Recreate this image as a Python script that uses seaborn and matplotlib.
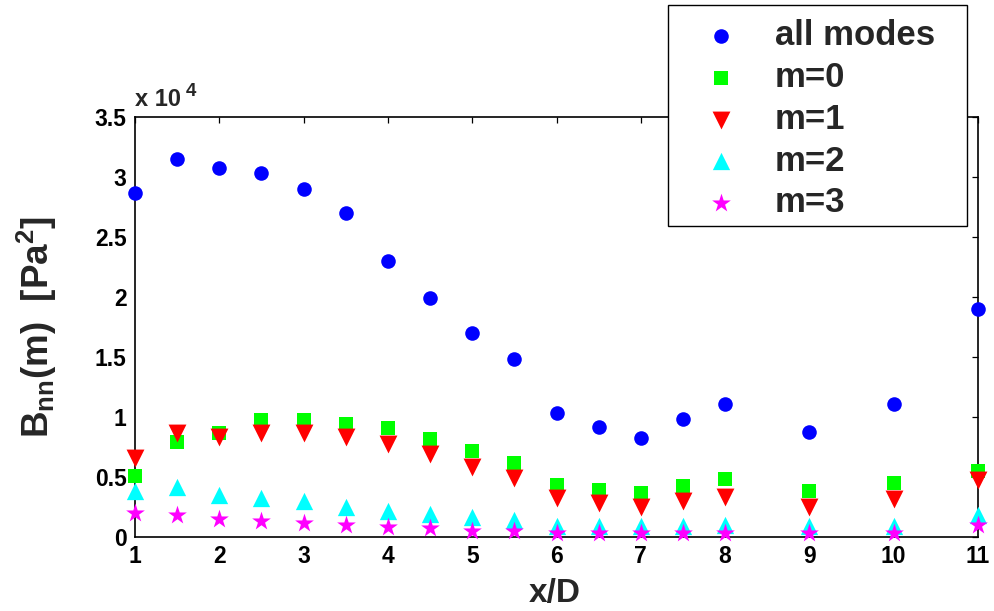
import matplotlib
matplotlib.use("Agg")
import matplotlib.pyplot as plt
from matplotlib.patches import Rectangle
import seaborn as sns
import numpy as np

# Streamwise stations (x/D)
x_pos = [1, 1.5, 2, 2.5, 3, 3.5, 4, 4.5, 5, 5.5, 6, 6.5, 7, 7.5, 8, 9, 10, 11]

# Azimuthal mode energy B_nn(m) in Pa^2
all_modes = [28640, 31470, 30780, 30310, 29000, 27030, 23000, 19940, 17000, 14860,
             10360, 9190, 8220, 9810, 11080, 8720, 11080, 18970]
m0 = [5080, 7900, 8640, 9750, 9750, 9390, 9060, 8140, 7190, 6140,
      4330, 3920, 3640, 4250, 4830, 3860, 4470, 5530]
m1 = [6560, 8690, 8310, 8640, 8640, 8310, 7720, 6890, 5860, 4890,
      3220, 2860, 2530, 3030, 3360, 2530, 3140, 4750]
m2 = [3860, 4140, 3500, 3220, 3030, 2530, 2190, 1920, 1640, 1420,
      900, 900, 900, 900, 1000, 900, 900, 1830]
m3 = [2030, 1830, 1470, 1360, 1190, 1000, 860, 720, 530, 530,
      300, 300, 300, 300, 300, 300, 300, 1000]

labels = ["all modes", "m=0", "m=1", "m=2", "m=3"]
y_ticks = [0, 0.5, 1, 1.5, 2, 2.5, 3, 3.5]
x_ticks = [1, 2, 3, 4, 5, 6, 7, 8, 9, 10, 11]

sns.set_style("white")
plt.rcParams["font.family"] = ["Liberation Sans", "DejaVu Sans"]
plt.rcParams["font.weight"] = "bold"
plt.rcParams["mathtext.fontset"] = "custom"
plt.rcParams["mathtext.rm"] = "Liberation Sans:bold"
plt.rcParams["mathtext.bf"] = "Liberation Sans:bold"
plt.rcParams["mathtext.it"] = "Liberation Sans:bold"
plt.rcParams["mathtext.default"] = "bf"

W, H = 995, 611
fig = plt.figure(figsize=(W / 100, H / 100), dpi=100)
ax = fig.add_axes([0.1357, 0.1211, 0.8472, 0.6874])

series = [all_modes, m0, m1, m2, m3]
styles = [("o", "#0000ff", 110), ("s", "#00ff00", 95), ("v", "#ff0000", 165),
          ("^", "#00ffff", 155), ("*", "#ff00ff", 200)]

for vals, lab, (mk, col, s) in zip(series, labels, styles):
    sns.scatterplot(x=x_pos, y=vals, marker=mk, color=col, s=s, linewidth=0,
                    ax=ax, label=lab, clip_on=False, zorder=3)

ax.set_xlim(1, 11)
ax.set_ylim(0, 35000)
ax.set_xticks(x_ticks)
ax.set_xticklabels([str(t) for t in x_ticks])
ax.set_yticks([t * 1e4 for t in y_ticks])
ax.set_yticklabels([("%g" % t) for t in y_ticks])

for sp in ax.spines.values():
    sp.set_visible(True)
    sp.set_color("black")
    sp.set_linewidth(1.2)

ax.tick_params(direction="in", length=4, width=0.9, top=True, right=True,
               labelsize=16.5, pad=6, colors="black")
for lab in ax.get_xticklabels() + ax.get_yticklabels():
    lab.set_fontweight("bold")

ax.set_xlabel("x/D", fontsize=24, fontweight="bold")
ax.xaxis.set_label_coords(0.498, -0.098)
ax.set_ylabel(r"B$_{nn}$(m)  [Pa$^{2}$]", fontsize=26.5, fontweight="bold")
ax.yaxis.set_label_coords(-0.09, 0.5)

# exponent label above the y axis
fig.text(0.1357, 0.8265, "x 10", fontsize=17, fontweight="bold",
         ha="left", va="baseline")
fig.text(0.1865, 0.8425, "4", fontsize=13.5, fontweight="bold",
         ha="left", va="baseline")

# legend entries without their own frame, boxed separately
leg = ax.legend(loc="upper left", bbox_to_anchor=(694 / W, 1 - 19 / H),
                bbox_transform=fig.transFigure, fontsize=25, frameon=False,
                borderpad=0, handlelength=1.55, handletextpad=0.78,
                labelspacing=0.255, borderaxespad=0)
leg.set_zorder(5)
for t in leg.get_texts():
    t.set_fontweight("bold")

frame = Rectangle((668 / W, 1 - 226 / H), (967 - 668) / W, (226 - 5) / H,
                  transform=fig.transFigure, facecolor="white",
                  edgecolor="black", linewidth=1.0, zorder=4)
fig.add_artist(frame)
leg.remove()
fig.add_artist(leg)

fig.savefig("out.png", dpi=100, facecolor="white")
